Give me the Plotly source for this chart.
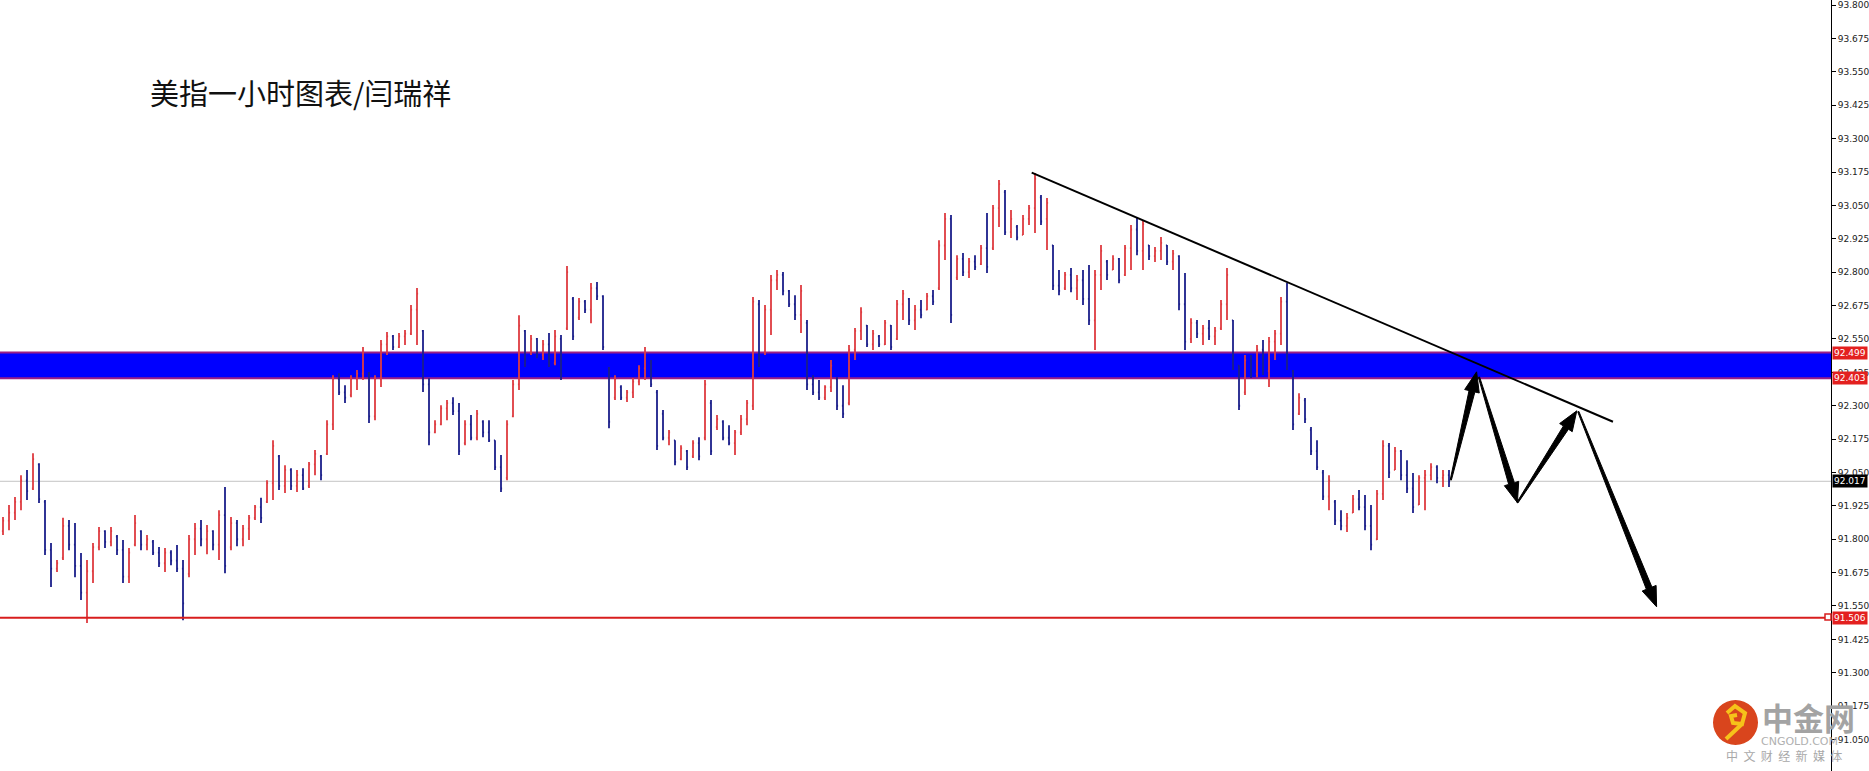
import plotly.graph_objects as go

# ---------------- data (USD index, 1-hour bars) ----------------
opens = [
    91.830, 91.870, 91.900, 91.940, 92.020, 91.990, 92.080, 91.940, 91.760, 91.690,
    91.730, 91.850, 91.780, 91.700, 91.600, 91.680, 91.770, 91.830, 91.790, 91.810,
    91.760, 91.660, 91.780, 91.830, 91.780, 91.790, 91.750, 91.710, 91.750, 91.720,
    91.690, 91.670, 91.800, 91.840, 91.800, 91.830, 91.780, 91.890, 91.770, 91.860,
    91.800, 91.840, 91.880, 91.920, 91.940, 92.010, 92.110, 92.000, 92.060, 92.000,
    92.040, 92.000, 92.080, 92.110, 92.120, 92.230, 92.400, 92.350, 92.340, 92.400,
    92.420, 92.420, 92.260, 92.400, 92.530, 92.560, 92.520, 92.560, 92.570, 92.660,
    92.580, 92.380, 92.200, 92.230, 92.290, 92.310, 92.280, 92.160, 92.230, 92.180,
    92.240, 92.200, 92.170, 92.070, 92.030, 92.260, 92.380, 92.580, 92.500, 92.550,
    92.490, 92.530, 92.460, 92.550, 92.590, 92.700, 92.630, 92.690, 92.660, 92.740,
    92.710, 92.440, 92.330, 92.370, 92.330, 92.350, 92.390, 92.440, 92.460, 92.350,
    92.270, 92.180, 92.170, 92.100, 92.130, 92.110, 92.160, 92.180, 92.310, 92.220,
    92.240, 92.180, 92.160, 92.200, 92.250, 92.300, 92.680, 92.500, 92.660, 92.770,
    92.790, 92.730, 92.680, 92.640, 92.610, 92.380, 92.350, 92.330, 92.370, 92.400,
    92.300, 92.310, 92.510, 92.580, 92.600, 92.530, 92.560, 92.530, 92.600, 92.550,
    92.680, 92.700, 92.620, 92.660, 92.660, 92.710, 92.740, 92.900, 93.000, 92.780,
    92.850, 92.800, 92.840, 92.830, 92.890, 92.890, 93.040, 93.100, 92.950, 92.970,
    92.940, 93.000, 93.040, 93.080, 93.000, 92.900, 92.750, 92.740, 92.790, 92.740,
    92.770, 92.700, 92.620, 92.790, 92.840, 92.810, 92.850, 92.790, 92.890, 92.960,
    92.880, 92.900, 92.860, 92.880, 92.900, 92.840, 92.860, 92.680, 92.550, 92.610,
    92.570, 92.590, 92.560, 92.590, 92.680, 92.620, 92.450, 92.350, 92.470, 92.420,
    92.510, 92.430, 92.540, 92.570, 92.690, 92.430, 92.270, 92.320, 92.210, 92.130,
    92.050, 91.960, 91.940, 91.870, 91.850, 91.900, 91.950, 91.920, 91.850, 91.800,
    91.970, 92.150, 92.060, 92.130, 92.040, 91.990, 91.930, 92.030, 92.040, 92.070,
    92.030, 92.040,
]
highs = [
    91.883, 91.928, 91.958, 92.040, 92.059, 92.122, 92.085, 91.947, 91.786, 91.722,
    91.880, 91.872, 91.861, 91.748, 91.722, 91.786, 91.846, 91.834, 91.846, 91.816,
    91.797, 91.767, 91.891, 91.834, 91.816, 91.797, 91.771, 91.767, 91.759, 91.778,
    91.722, 91.816, 91.861, 91.872, 91.853, 91.834, 91.909, 91.996, 91.883, 91.872,
    91.853, 91.891, 91.928, 91.955, 92.021, 92.171, 92.115, 92.077, 92.066, 92.059,
    92.066, 92.089, 92.134, 92.115, 92.246, 92.414, 92.422, 92.377, 92.414, 92.434,
    92.520, 92.426, 92.414, 92.546, 92.576, 92.565, 92.572, 92.584, 92.677, 92.741,
    92.584, 92.403, 92.246, 92.302, 92.321, 92.332, 92.310, 92.246, 92.265, 92.284,
    92.246, 92.246, 92.171, 92.115, 92.246, 92.396, 92.639, 92.584, 92.565, 92.554,
    92.546, 92.572, 92.584, 92.565, 92.823, 92.707, 92.703, 92.696, 92.760, 92.763,
    92.714, 92.445, 92.414, 92.377, 92.359, 92.404, 92.452, 92.520, 92.471, 92.359,
    92.284, 92.209, 92.171, 92.152, 92.134, 92.171, 92.182, 92.396, 92.321, 92.265,
    92.246, 92.227, 92.209, 92.265, 92.321, 92.707, 92.696, 92.677, 92.790, 92.808,
    92.801, 92.733, 92.714, 92.752, 92.621, 92.414, 92.396, 92.377, 92.471, 92.407,
    92.377, 92.527, 92.591, 92.669, 92.602, 92.584, 92.565, 92.621, 92.602, 92.696,
    92.733, 92.703, 92.677, 92.696, 92.722, 92.733, 92.920, 93.022, 93.014, 92.864,
    92.872, 92.853, 92.864, 92.902, 93.022, 93.052, 93.145, 93.108, 93.033, 92.977,
    93.014, 93.052, 93.172, 93.089, 93.078, 92.902, 92.808, 92.801, 92.816, 92.790,
    92.808, 92.827, 92.808, 92.902, 92.846, 92.864, 92.853, 92.902, 92.977, 93.007,
    92.996, 92.902, 92.894, 92.932, 92.902, 92.883, 92.864, 92.797, 92.628, 92.621,
    92.602, 92.621, 92.595, 92.696, 92.816, 92.621, 92.452, 92.490, 92.490, 92.527,
    92.546, 92.557, 92.584, 92.707, 92.760, 92.434, 92.347, 92.329, 92.220, 92.171,
    92.059, 92.040, 91.947, 91.909, 91.898, 91.966, 91.984, 91.966, 91.928, 91.984,
    92.171, 92.160, 92.145, 92.134, 92.096, 92.048, 92.040, 92.059, 92.085, 92.077,
    92.059, 92.059,
]
lows = [
    91.816, 91.834, 91.872, 91.909, 91.947, 91.984, 91.936, 91.741, 91.621, 91.677,
    91.722, 91.759, 91.658, 91.572, 91.486, 91.636, 91.759, 91.767, 91.774, 91.741,
    91.636, 91.636, 91.774, 91.759, 91.759, 91.741, 91.696, 91.677, 91.703, 91.677,
    91.497, 91.658, 91.741, 91.774, 91.744, 91.759, 91.722, 91.673, 91.759, 91.774,
    91.774, 91.797, 91.872, 91.861, 91.936, 91.947, 91.984, 91.973, 91.984, 91.977,
    91.984, 91.992, 92.040, 92.021, 92.115, 92.209, 92.340, 92.310, 92.332, 92.359,
    92.396, 92.235, 92.246, 92.370, 92.490, 92.509, 92.516, 92.527, 92.565, 92.527,
    92.351, 92.152, 92.197, 92.227, 92.246, 92.265, 92.115, 92.152, 92.171, 92.171,
    92.182, 92.164, 92.059, 91.977, 92.021, 92.257, 92.359, 92.445, 92.490, 92.478,
    92.471, 92.445, 92.452, 92.396, 92.584, 92.546, 92.621, 92.647, 92.609, 92.696,
    92.509, 92.216, 92.321, 92.321, 92.314, 92.329, 92.377, 92.396, 92.370, 92.134,
    92.171, 92.152, 92.077, 92.096, 92.059, 92.104, 92.096, 92.171, 92.115, 92.209,
    92.171, 92.152, 92.115, 92.190, 92.227, 92.284, 92.445, 92.490, 92.565, 92.733,
    92.714, 92.670, 92.621, 92.572, 92.359, 92.340, 92.321, 92.321, 92.351, 92.284,
    92.254, 92.302, 92.471, 92.546, 92.520, 92.509, 92.520, 92.527, 92.509, 92.546,
    92.621, 92.602, 92.584, 92.628, 92.658, 92.677, 92.733, 92.846, 92.610, 92.771,
    92.786, 92.778, 92.808, 92.827, 92.797, 92.883, 92.969, 92.939, 92.928, 92.920,
    92.939, 92.977, 92.947, 92.977, 92.883, 92.733, 92.714, 92.733, 92.725, 92.696,
    92.677, 92.602, 92.509, 92.733, 92.771, 92.808, 92.759, 92.786, 92.808, 92.864,
    92.808, 92.846, 92.838, 92.846, 92.827, 92.808, 92.658, 92.509, 92.535, 92.554,
    92.527, 92.546, 92.527, 92.584, 92.621, 92.434, 92.284, 92.340, 92.404, 92.407,
    92.415, 92.370, 92.471, 92.527, 92.434, 92.209, 92.265, 92.235, 92.115, 92.059,
    91.947, 91.909, 91.853, 91.834, 91.827, 91.898, 91.909, 91.834, 91.759, 91.797,
    91.947, 92.029, 92.059, 92.021, 91.973, 91.898, 91.928, 91.909, 92.021, 92.010,
    91.996, 91.996,
]
closes = [
    91.870, 91.900, 91.940, 92.020, 91.980, 92.100, 91.950, 91.760, 91.690, 91.710,
    91.850, 91.780, 91.700, 91.600, 91.680, 91.770, 91.830, 91.790, 91.830, 91.760,
    91.660, 91.750, 91.860, 91.780, 91.800, 91.750, 91.710, 91.750, 91.720, 91.690,
    91.560, 91.800, 91.840, 91.800, 91.830, 91.780, 91.890, 91.700, 91.860, 91.800,
    91.840, 91.880, 91.920, 91.880, 92.010, 92.150, 92.000, 92.060, 92.000, 92.040,
    91.990, 92.080, 92.120, 92.040, 92.230, 92.400, 92.350, 92.330, 92.400, 92.420,
    92.500, 92.260, 92.400, 92.530, 92.560, 92.520, 92.560, 92.570, 92.660, 92.720,
    92.380, 92.200, 92.230, 92.290, 92.310, 92.280, 92.130, 92.230, 92.180, 92.270,
    92.200, 92.170, 92.070, 91.990, 92.230, 92.380, 92.600, 92.470, 92.550, 92.490,
    92.530, 92.460, 92.560, 92.420, 92.800, 92.560, 92.690, 92.660, 92.740, 92.710,
    92.520, 92.240, 92.400, 92.330, 92.350, 92.390, 92.440, 92.500, 92.380, 92.150,
    92.180, 92.200, 92.090, 92.140, 92.070, 92.160, 92.110, 92.380, 92.130, 92.250,
    92.180, 92.160, 92.200, 92.250, 92.310, 92.690, 92.480, 92.660, 92.770, 92.790,
    92.730, 92.680, 92.640, 92.730, 92.380, 92.350, 92.330, 92.370, 92.450, 92.300,
    92.270, 92.510, 92.580, 92.650, 92.530, 92.570, 92.530, 92.610, 92.520, 92.680,
    92.720, 92.620, 92.660, 92.640, 92.710, 92.690, 92.900, 93.000, 92.640, 92.850,
    92.800, 92.840, 92.820, 92.890, 92.820, 93.040, 93.130, 92.950, 93.000, 92.930,
    93.000, 93.040, 93.150, 92.990, 93.060, 92.750, 92.730, 92.790, 92.740, 92.770,
    92.700, 92.620, 92.790, 92.880, 92.790, 92.850, 92.770, 92.890, 92.960, 92.880,
    92.980, 92.860, 92.880, 92.910, 92.840, 92.870, 92.680, 92.540, 92.610, 92.570,
    92.590, 92.560, 92.580, 92.680, 92.790, 92.450, 92.300, 92.470, 92.420, 92.510,
    92.430, 92.540, 92.570, 92.690, 92.450, 92.230, 92.330, 92.250, 92.130, 92.070,
    91.960, 92.020, 91.870, 91.850, 91.880, 91.950, 91.920, 91.850, 91.780, 91.970,
    92.150, 92.050, 92.130, 92.040, 91.990, 91.920, 92.030, 92.040, 92.070, 92.030,
    92.040, 92.017,
]

# price levels
band_low, band_high = 92.403, 92.499
support_level = 91.506
last_price = 92.017
tick_top, tick_step, tick_count = 93.800, 0.125, 24

# hand-drawn trend line (bar index, price)
trend_x = [171.45, 268.33]
trend_p = [93.173, 92.240]

# forecast arrows: tail -> tip (bar index, price)
arrow_tail_x = [241.3, 246.0, 252.4, 262.55]
arrow_tail_p = [92.022, 92.407, 91.937, 92.278]
arrow_tip_x = [245.6, 252.4, 262.3, 275.6]
arrow_tip_p = [92.427, 91.937, 92.281, 91.547]

title_text = "美指一小时图表/闫瑞祥"

# ---------------- figure geometry ----------------
W, H = 1869, 771
MR = 38
PW = W - MR  # plot width in px
x_range = [-0.5, PW / 6.0 - 0.5]
y_range = [90.932, 93.8195]
sx = PW / (x_range[1] - x_range[0])
sy = H / (y_range[1] - y_range[0])


def to_px(x, p):
    return ((x - x_range[0]) * sx, (y_range[1] - p) * sy)


def to_data(px, py):
    return (px / sx + x_range[0], y_range[1] - py / sy)


def arrow_path(x0, p0, x1, p1, hl=20.0, hw=7.5, w0=0.6, w1=3.0):
    ax, ay = to_px(x0, p0)
    bx, by = to_px(x1, p1)
    dx, dy = bx - ax, by - ay
    L = (dx * dx + dy * dy) ** 0.5
    ux, uy = dx / L, dy / L
    nx, ny = -uy, ux
    hx, hy = bx - ux * hl, by - uy * hl
    pts = [
        (ax + nx * w0, ay + ny * w0),
        (hx + nx * w1, hy + ny * w1),
        (hx + nx * hw, hy + ny * hw),
        (bx, by),
        (hx - nx * hw, hy - ny * hw),
        (hx - nx * w1, hy - ny * w1),
        (ax - nx * w0, ay - ny * w0),
    ]
    d = []
    for i, (px, py) in enumerate(pts):
        xx, pp = to_data(px, py)
        d.append(("M" if i == 0 else "L") + f"{xx:.4f},{pp:.5f}")
    return " ".join(d) + " Z"


fig = go.Figure()

fig.add_trace(go.Ohlc(
    x=list(range(len(closes))),
    open=opens, high=highs, low=lows, close=closes,
    increasing=dict(line=dict(color="#de3b40", width=1.8)),
    decreasing=dict(line=dict(color="#1b1f8a", width=1.8)),
    tickwidth=0.18,
    hoverinfo="skip",
    showlegend=False,
))

shapes = []
# resistance band (behind the bars)
shapes.append(dict(type="rect", xref="paper", yref="y", x0=0, x1=1,
                   y0=band_low, y1=band_high, fillcolor="#0000ff",
                   line=dict(width=0), layer="below"))
for lvl in (band_low, band_high):
    shapes.append(dict(type="line", xref="paper", yref="y", x0=0, x1=1,
                       y0=lvl, y1=lvl, line=dict(color="#9a1f86", width=2),
                       layer="below"))
# current price line
shapes.append(dict(type="line", xref="paper", yref="y", x0=0, x1=1,
                   y0=last_price, y1=last_price,
                   line=dict(color="#c4c4c4", width=1), layer="below"))
# support line
shapes.append(dict(type="line", xref="paper", yref="y", x0=0, x1=1,
                   y0=support_level, y1=support_level,
                   line=dict(color="#d81e1e", width=2), layer="above"))
# trend line
shapes.append(dict(type="line", xref="x", yref="y",
                   x0=trend_x[0], y0=trend_p[0], x1=trend_x[1], y1=trend_p[1],
                   line=dict(color="#000000", width=2), layer="above"))
# arrows
for i in range(len(arrow_tail_x)):
    shapes.append(dict(type="path", xref="x", yref="y",
                       path=arrow_path(arrow_tail_x[i], arrow_tail_p[i],
                                       arrow_tip_x[i], arrow_tip_p[i]),
                       fillcolor="#000000", line=dict(color="#000000", width=1),
                       layer="above"))


def pap(px, py):
    return px / PW, 1 - py / H


# small marker at end of support line
mx0, my0 = pap(1825, 614)
mx1, my1 = pap(1831, 620)
shapes.append(dict(type="rect", xref="paper", yref="paper", x0=mx0, x1=mx1,
                   y0=my1, y1=my0, fillcolor="white",
                   line=dict(color="#d81e1e", width=1.5), layer="above"))

# logo circle
cx0, cy0 = pap(1713, 700)
cx1, cy1 = pap(1758, 745)
shapes.append(dict(type="circle", xref="paper", yref="paper", x0=cx0, x1=cx1,
                   y0=cy1, y1=cy0, fillcolor="#d9451d", line=dict(width=0),
                   layer="above"))
# logo swirl
sw = [(1727, 713), (1735, 706), (1745, 713), (1742, 724), (1733, 723),
      (1731, 716), (1737, 715)]
sp = []
for i, (a, b) in enumerate(sw):
    xa, ya = pap(a, b)
    sp.append(("M" if i == 0 else "L") + f"{xa:.5f},{ya:.5f}")
shapes.append(dict(type="path", xref="paper", yref="paper", path=" ".join(sp),
                   line=dict(color="#f6c21a", width=4), layer="above"))
t0 = pap(1742, 724)
t1 = pap(1726, 739)
shapes.append(dict(type="line", xref="paper", yref="paper", x0=t0[0], y0=t0[1],
                   x1=t1[0], y1=t1[1], line=dict(color="#f6c21a", width=4),
                   layer="above"))

annotations = []
annotations.append(dict(text=title_text, xref="paper", yref="paper",
                        x=148 / PW, y=1 - 92 / H, xanchor="left", yanchor="middle",
                        showarrow=False,
                        font=dict(family="Noto Sans CJK SC", size=29, color="#111111")))

for val, bg in [(band_high, "#e3201f"), (band_low, "#e3201f"),
                (last_price, "#000000"), (support_level, "#e3201f")]:
    annotations.append(dict(text=f"{val:.3f}", xref="paper", yref="y", x=1, y=val,
                            xanchor="left", yanchor="middle", xshift=1,
                            showarrow=False, bgcolor=bg, borderpad=1,
                            font=dict(family="DejaVu Sans", size=9, color="#ffffff")))

lx, ly = pap(1808, 716)
annotations.append(dict(text="<b>中金网</b>", xref="paper", yref="paper", x=lx, y=ly,
                        xanchor="center", yanchor="middle", showarrow=False,
                        font=dict(family="Noto Sans CJK SC", size=31, color="#a3a3a3")))
lx, ly = pap(1799, 741)
annotations.append(dict(text="CNGOLD.COM", xref="paper", yref="paper", x=lx, y=ly,
                        xanchor="center", yanchor="middle", showarrow=False,
                        font=dict(family="DejaVu Sans", size=11, color="#b0b0b0")))
lx, ly = pap(1784, 755)
annotations.append(dict(text="中&nbsp;&nbsp;文&nbsp;&nbsp;财&nbsp;&nbsp;经&nbsp;&nbsp;新&nbsp;&nbsp;媒&nbsp;&nbsp;体",
                        xref="paper", yref="paper", x=lx, y=ly,
                        xanchor="center", yanchor="middle", showarrow=False,
                        font=dict(family="Noto Sans CJK SC", size=12, color="#a8a8a8")))

tickvals = [round(tick_top - tick_step * k, 3) for k in range(tick_count)]
ticktext = [f"{v:.3f}" for v in tickvals]

fig.update_layout(
    width=W, height=H, autosize=False,
    margin=dict(l=0, r=MR, t=0, b=0, pad=0),
    paper_bgcolor="white", plot_bgcolor="white",
    shapes=shapes, annotations=annotations,
    xaxis=dict(range=x_range, visible=False, rangeslider=dict(visible=False),
               showgrid=False, zeroline=False),
    yaxis=dict(range=y_range, side="right", showgrid=False, zeroline=False,
               showline=True, linecolor="#000000", linewidth=1,
               ticks="outside", ticklen=4, tickcolor="#000000",
               tickvals=tickvals, ticktext=ticktext,
               tickfont=dict(family="DejaVu Sans", size=9, color="#222222")),
    hovermode=False,
)

fig.write_html("out.html", config={"displayModeBar": False},
               post_script="document.body.style.margin='0';")
